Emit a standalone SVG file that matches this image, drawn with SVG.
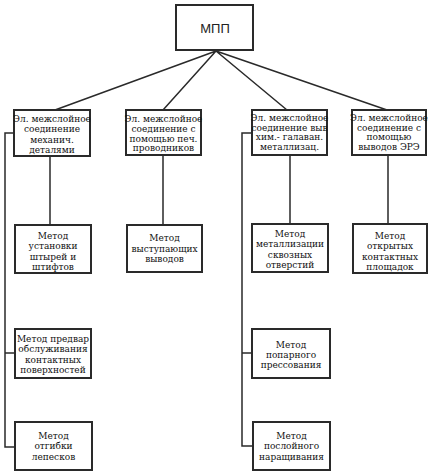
<svg xmlns="http://www.w3.org/2000/svg" width="431" height="474" viewBox="0 0 431 474">
<style>
.b{fill:#fff;stroke:#2a2a2a;stroke-width:2}
.t{font-family:'DejaVu Serif',serif;font-size:9px;fill:#111;text-anchor:middle}
.c{fill:none;stroke:#2a2a2a;stroke-width:1.5}
</style>
<rect width="431" height="474" fill="#fff"/>
<g id="connectors">
<path class="c" d="M216,51 L55,110 M216,51 L163,110 M216,51 L287,110 M216,51 L387,110"/>
<path class="c" d="M50,156 V225 M163,155 V225 M290,155 V224 M388,155 V224"/>
<path class="c" d="M14,133 H5 V447 H15 M5,353 H15"/>
<path class="c" d="M252,133 H242 V446 H253 M242,353 H252"/>
</g>
<g id="mpp"><rect class="b" x="176" y="5" width="77" height="45"/><text x="215" y="33" font-family="Liberation Sans, Arial, sans-serif" font-size="13" fill="#222" text-anchor="middle">МПП</text></g>
<g id="n1"><rect class="b" x="14" y="110" width="76" height="46"/><text class="t"><tspan x="52" y="121.5">Эл. межслойное</tspan><tspan x="52" y="132">соединение</tspan><tspan x="52" y="142.5">механич.</tspan><tspan x="52" y="153">деталями</tspan></text></g>
<g id="n2"><rect class="b" x="126" y="110" width="75" height="45"/><text class="t"><tspan x="163.5" y="121.5">Эл. межслойное</tspan><tspan x="163.5" y="131.5">соединение с</tspan><tspan x="163.5" y="141.5">помощью печ.</tspan><tspan x="163.5" y="151">проводников</tspan></text></g>
<g id="n3"><rect class="b" x="252" y="110" width="75" height="45"/><text class="t"><tspan x="289.5" y="121">Эл. межслойное</tspan><tspan x="289.5" y="130.5">соединение выв</tspan><tspan x="289.5" y="140">хим.- галаван.</tspan><tspan x="289.5" y="150">металлизац.</tspan></text></g>
<g id="n4"><rect class="b" x="352" y="110" width="74" height="45"/><text class="t"><tspan x="389" y="121">Эл. межслойное</tspan><tspan x="389" y="130.5">соединение с</tspan><tspan x="389" y="140">помощью</tspan><tspan x="389" y="150">выводов ЭРЭ</tspan></text></g>
<g id="m1"><rect class="b" x="15" y="225" width="76" height="48"/><text class="t"><tspan x="53" y="238.5">Метод</tspan><tspan x="53" y="248.5">установки</tspan><tspan x="53" y="259.5">штырей и</tspan><tspan x="53" y="269.5">штифтов</tspan></text></g>
<g id="m2"><rect class="b" x="127" y="225" width="75" height="47"/><text class="t"><tspan x="164.5" y="240.5">Метод</tspan><tspan x="164.5" y="251.5">выступающих</tspan><tspan x="164.5" y="262">выводов</tspan></text></g>
<g id="m3"><rect class="b" x="252" y="224" width="76" height="48"/><text class="t"><tspan x="290" y="236.5">Метод</tspan><tspan x="290" y="246.5">металлизации</tspan><tspan x="290" y="257.5">сквозных</tspan><tspan x="290" y="267.5">отверстий</tspan></text></g>
<g id="m4"><rect class="b" x="353" y="224" width="74" height="49"/><text class="t"><tspan x="390" y="238.5">Метод</tspan><tspan x="390" y="248.5">открытых</tspan><tspan x="390" y="259.5">контактных</tspan><tspan x="390" y="269.5">площадок</tspan></text></g>
<g id="m5"><rect class="b" x="15" y="329" width="76" height="49"/><text class="t"><tspan x="53" y="341.5">Метод предвар</tspan><tspan x="53" y="351.5">обслуживания</tspan><tspan x="53" y="362.5">контактных</tspan><tspan x="53" y="372.5">поверхностей</tspan></text></g>
<g id="m6"><rect class="b" x="252" y="329" width="78" height="49"/><text class="t"><tspan x="291" y="347.5">Метод</tspan><tspan x="291" y="357.5">попарного</tspan><tspan x="291" y="367.5">прессования</tspan></text></g>
<g id="m7"><rect class="b" x="15" y="422" width="77" height="48"/><text class="t"><tspan x="53.5" y="438.5">Метод</tspan><tspan x="53.5" y="448.5">отгибки</tspan><tspan x="53.5" y="459.5">лепесков</tspan></text></g>
<g id="m8"><rect class="b" x="253" y="422" width="77" height="48"/><text class="t"><tspan x="291.5" y="438.5">Метод</tspan><tspan x="291.5" y="448.5">послойного</tspan><tspan x="291.5" y="459.5">наращивания</tspan></text></g>
</svg>
